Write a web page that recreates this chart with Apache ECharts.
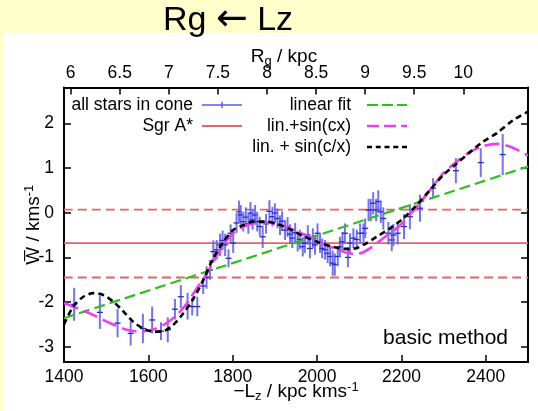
<!DOCTYPE html>
<html>
<head>
<meta charset="utf-8">
<script src="https://cdn.jsdelivr.net/npm/echarts@6/dist/echarts.min.js"></script>
<style>
  html, body { margin: 0; padding: 0; background: #ffffcc; }
  #chart { width: 538px; height: 411px; }
</style>
</head>
<body>
<div id="chart"></div>
<script>
// Mean vertical velocity of stars binned by angular momentum.
const starLz = [
  1424, 1485, 1527, 1558, 1587, 1609, 1630, 1646, 1663, 1677, 1693, 1704, 1716, 1730, 1738, 1746,
  1754, 1762, 1770, 1776, 1782, 1790, 1795, 1801, 1809, 1815, 1819, 1825, 1831, 1837, 1842, 1847,
  1853, 1858, 1864, 1871, 1879, 1887, 1894, 1900, 1906, 1912, 1917, 1924, 1930, 1936, 1941, 1948,
  1954, 1959, 1966, 1971, 1978, 1983, 1990, 1995, 2001, 2007, 2012, 2019, 2025, 2031, 2037, 2042,
  2049, 2054, 2060, 2066, 2073, 2078, 2086, 2094, 2102, 2110, 2114, 2122, 2127, 2133, 2140, 2145,
  2151, 2157, 2169, 2177, 2181, 2191, 2206, 2220, 2244, 2275, 2329, 2388, 2440,
];
const starW = [
  -2.05, -2.23, -2.47, -2.70, -2.59, -2.40, -2.65, -2.62, -2.16, -1.88, -2.09, -2.10, -2.10, -1.64, -1.45, -1.28,
  -0.87, -0.83, -0.72, -0.62, -0.72, -1.02, -0.46, -0.68, -0.23, 0.02, -0.05, -0.20, -0.10, -0.25, -0.01, -0.16,
  -0.05, -0.20, -0.31, -0.54, -0.25, 0.03, -0.09, -0.01, -0.13, -0.28, -0.19, -0.39, -0.32, -0.48, -0.57, -0.45,
  -0.65, -0.60, -0.76, -0.68, -0.50, -0.80, -0.57, -0.72, -0.46, -0.68, -0.80, -0.83, -0.91, -0.98, -1.13, -1.16,
  -0.98, -0.76, -0.65, -0.46, -1.00, -0.68, -0.57, -0.60, -0.46, -0.46, -0.35, 0.06, 0.06, 0.21, 0.06, 0.25,
  0.02, -0.13, -0.46, -0.61, -0.50, -0.46, -0.31, -0.09, 0.10, 0.55, 0.94, 1.12, 1.30,
];
const starErr = [
  0.37, 0.37, 0.32, 0.27, 0.33, 0.30, 0.20, 0.28, 0.23, 0.26, 0.30, 0.20, 0.22, 0.18, 0.25, 0.22,
  0.25, 0.22, 0.25, 0.22, 0.25, 0.20, 0.20, 0.22, 0.22, 0.25, 0.22, 0.22, 0.22, 0.22, 0.25, 0.22,
  0.22, 0.22, 0.22, 0.25, 0.22, 0.25, 0.22, 0.22, 0.22, 0.22, 0.22, 0.22, 0.22, 0.22, 0.22, 0.22,
  0.22, 0.22, 0.22, 0.22, 0.22, 0.22, 0.22, 0.22, 0.22, 0.22, 0.22, 0.22, 0.22, 0.22, 0.28, 0.25,
  0.22, 0.22, 0.22, 0.22, 0.22, 0.22, 0.22, 0.22, 0.22, 0.22, 0.22, 0.25, 0.25, 0.25, 0.25, 0.25,
  0.25, 0.25, 0.25, 0.25, 0.25, 0.25, 0.28, 0.28, 0.30, 0.22, 0.28, 0.32, 0.46,
];

// Sgr A* reference value and its band
const sgrW = -0.68;
const sgrBandHi = 0.07;
const sgrBandLo = -1.45;

// Fits
const linLz = [1400, 2500];
const linW = [-2.36, 1.03];

const sinCxLz = [
  1400, 1435, 1470, 1509, 1549, 1580, 1612, 1643, 1667, 1691, 1715, 1738, 1754, 1778, 1801, 1825,
  1849, 1880, 1924, 1971, 2011, 2050, 2082, 2102, 2125, 2157, 2197, 2236, 2268, 2299, 2331, 2363,
  2394, 2426, 2457, 2500,
];
const sinCxW = [
  -2.02, -2.15, -2.29, -2.47, -2.62, -2.66, -2.61, -2.47, -2.29, -2.03, -1.69, -1.37, -1.10, -0.72, -0.46, -0.31,
  -0.24, -0.22, -0.31, -0.50, -0.68, -0.83, -0.92, -0.91, -0.80, -0.57, -0.28, 0.13, 0.51, 0.88, 1.14, 1.36,
  1.49, 1.54, 1.48, 1.28,
];

const sinInvLz = [
  1400, 1422, 1446, 1470, 1493, 1517, 1541, 1564, 1588, 1612, 1635, 1659, 1683, 1707, 1730, 1754,
  1778, 1801, 1825, 1849, 1878, 1908, 1940, 1971, 2003, 2035, 2066, 2090, 2110, 2141, 2173, 2204,
  2236, 2268, 2299, 2331, 2363, 2394, 2426, 2465, 2500,
];
const sinInvW = [
  -2.50, -2.10, -1.88, -1.80, -1.84, -1.99, -2.21, -2.44, -2.59, -2.66, -2.65, -2.51, -2.25, -1.92, -1.51, -1.02,
  -0.65, -0.39, -0.28, -0.20, -0.20, -0.26, -0.39, -0.54, -0.66, -0.76, -0.81, -0.80, -0.72, -0.54, -0.35, -0.13,
  0.17, 0.51, 0.84, 1.10, 1.36, 1.59, 1.78, 2.07, 2.26,
];

const lzTicks = [1400, 1600, 1800, 2000, 2200, 2400];
const rgTicks = [6, 6.5, 7, 7.5, 8, 8.5, 9, 9.5, 10];
const wTicks = [-3, -2, -1, 0, 1, 2];

const FONT = "'Liberation Sans', Arial, Helvetica, sans-serif";
const BLUE = "#5b5bee";
const RED = "#e66464";
const GREEN = "#2fbf1f";
const MAGENTA = "#f23cf2";

const pairs = (xs, ys) => xs.map((x, i) => [x, ys[i]]);
const flat = (v) => [[1400, v], [2500, v]];

const nameRich = {
  sub: { fontSize: 13, lineHeight: 13, verticalAlign: "bottom", fontFamily: FONT, color: "#000" },
  sup: { fontSize: 13, lineHeight: 13, verticalAlign: "top", fontFamily: FONT, color: "#000" },
};
const nameStyle = { fontSize: 19, lineHeight: 22, fontFamily: FONT, color: "#000", rich: nameRich };
const frame = { show: true, onZero: false, lineStyle: { color: "#000", width: 2 } };
const tick = (values) => ({ inside: true, length: 7, customValues: values, lineStyle: { color: "#000", width: 1.5 } });
const label = (values, margin) => ({
  customValues: values, margin, color: "#000", fontSize: 17.5, fontFamily: FONT,
  formatter: (v) => String(v),
});

const errorBars = {
  name: "all stars in cone",
  type: "custom",
  color: BLUE,
  itemStyle: { color: BLUE },
  data: starLz.map((l, i) => [l, starW[i], starErr[i]]),
  encode: { x: 0, y: 1 },
  z: 2,
  renderItem(params, api) {
    const x = api.value(0);
    const w = api.value(1);
    const e = api.value(2);
    const top = api.coord([x, w + e]);
    const bot = api.coord([x, w - e]);
    const mid = api.coord([x, w]);
    return {
      type: "group",
      children: [
        { type: "line", shape: { x1: top[0], y1: top[1], x2: bot[0], y2: bot[1] }, style: { stroke: BLUE, lineWidth: 2, opacity: 0.85 } },
        { type: "line", shape: { x1: mid[0] - 3, y1: mid[1], x2: mid[0] + 3, y2: mid[1] }, style: { stroke: "#2a2ac0", lineWidth: 1.3 } },
      ],
    };
  },
};

const lineOf = (name, data, color, width, dash, z) => ({
  name,
  type: "line",
  data,
  symbol: "none",
  smooth: 0.3,
  color,
  itemStyle: { color },
  lineStyle: { color, width, type: dash },
  z,
  animation: false,
});

const option = {
  animation: false,
  backgroundColor: "#ffffcc",
  title: {
    text: "{a|Rg} {b|\u2190} {a|Lz}",
    left: 163,
    top: 1,
    padding: 0,
    textStyle: {
      fontSize: 34, fontWeight: "normal", fontFamily: FONT, color: "#000",
      rich: {
        a: { fontSize: 34, fontFamily: FONT, color: "#000" },
        b: { fontSize: 38, fontFamily: "'DejaVu Sans'", color: "#000", padding: [0, 0, 2, 0] },
      },
    },
  },
  graphic: [
    { type: "rect", left: 3, top: 33, z: -10, shape: { width: 535, height: 378 }, style: { fill: "#fff" } },
    {
      type: "text", right: 30, top: 328, z: 10,
      style: { text: "basic method", font: "21px " + FONT, fill: "#000" },
    },
  ],
  grid: { left: 64, right: 10, top: 87.5, bottom: 49, outerBoundsMode: "none", containLabel: false },
  legend: [
    {
      data: [
        { name: "all stars in cone", icon: "path://M0,3h40v1.4h-40z M19.3,0.4h1.4v6.6h-1.4z" },
        { name: "Sgr A*", icon: "path://M0,0h40v2h-40z" },
      ],
      orient: "vertical", align: "right", right: 296, top: 96, padding: 0,
      itemWidth: 40, itemHeight: 10, itemGap: 3, selectedMode: false,
      itemStyle: { borderWidth: 0 },
      textStyle: { fontSize: 17.5, fontFamily: FONT, color: "#000", padding: [0, 4, 0, 0] },
    },
    {
      data: [
        { name: "linear fit", icon: "path://M0,0h11v2h-11z M15,0h11v2h-11z M30,0h10v2h-10z" },
        { name: "lin.+sin(cx)", icon: "path://M0,0h12v2.4h-12z M17,0h12v2.4h-12z M34,0h6v2.4h-6z" },
        { name: "lin. + sin(c/x)", icon: "path://M0,0h5v2.4h-5z M8.75,0h5v2.4h-5z M17.5,0h5v2.4h-5z M26.25,0h5v2.4h-5z M35,0h5v2.4h-5z" },
      ],
      orient: "vertical", align: "right", right: 131, top: 96, padding: 0,
      itemWidth: 40, itemHeight: 10, itemGap: 3, selectedMode: false,
      itemStyle: { borderWidth: 0 },
      textStyle: { fontSize: 17.5, fontFamily: FONT, color: "#000", padding: [0, 11, 0, 0] },
    },
  ],
  xAxis: [
    {
      type: "value", position: "bottom", min: 1400, max: 2500,
      axisLine: frame, axisTick: tick(lzTicks), axisLabel: label(lzTicks, 6),
      splitLine: { show: false },
      name: "\u2212L{sub|z} / kpc kms{sup|-1}", nameLocation: "middle", nameGap: 19,
      nameMoveOverlap: false,
      nameTextStyle: nameStyle,
    },
    {
      type: "value", position: "top", min: 5.932, max: 10.659,
      axisLine: frame, axisTick: tick(rgTicks), axisLabel: label(rgTicks, 5),
      splitLine: { show: false },
      name: "R{sub|g} / kpc", nameLocation: "middle", nameGap: 20,
      nameMoveOverlap: false,
      nameTextStyle: { ...nameStyle, padding: [0, 24, 0, 0] },
    },
  ],
  yAxis: [
    {
      type: "value", position: "left", min: -3.34, max: 2.8,
      axisLine: frame, axisTick: tick(wTicks), axisLabel: label(wTicks, 10),
      splitLine: { show: false },
      name: "W\u0305 / kms{sup|-1}", nameLocation: "middle", nameGap: 19,
      nameMoveOverlap: false,
      nameTextStyle: nameStyle,
    },
    {
      type: "value", position: "right", min: -3.34, max: 2.8,
      axisLine: frame, axisTick: tick(wTicks), axisLabel: { show: false },
      splitLine: { show: false },
    },
  ],
  series: [
    lineOf("Sgr A*", flat(sgrW), RED, 1.8, "solid", 1),
    lineOf("Sgr A* +", flat(sgrBandHi), RED, 1.8, [9, 5], 1),
    lineOf("Sgr A* -", flat(sgrBandLo), RED, 1.8, [9, 5], 1),
    errorBars,
    lineOf("linear fit", pairs(linLz, linW), GREEN, 2.2, [11, 5], 3),
    lineOf("lin.+sin(cx)", pairs(sinCxLz, sinCxW), MAGENTA, 2.6, [15, 6], 4),
    lineOf("lin. + sin(c/x)", pairs(sinInvLz, sinInvW), "#000", 2.6, [6, 4], 5),
  ],
};

const chart = echarts.init(document.getElementById("chart"));
chart.setOption(option);
window.addEventListener("resize", () => chart.resize());
</script>
</body>
</html>
